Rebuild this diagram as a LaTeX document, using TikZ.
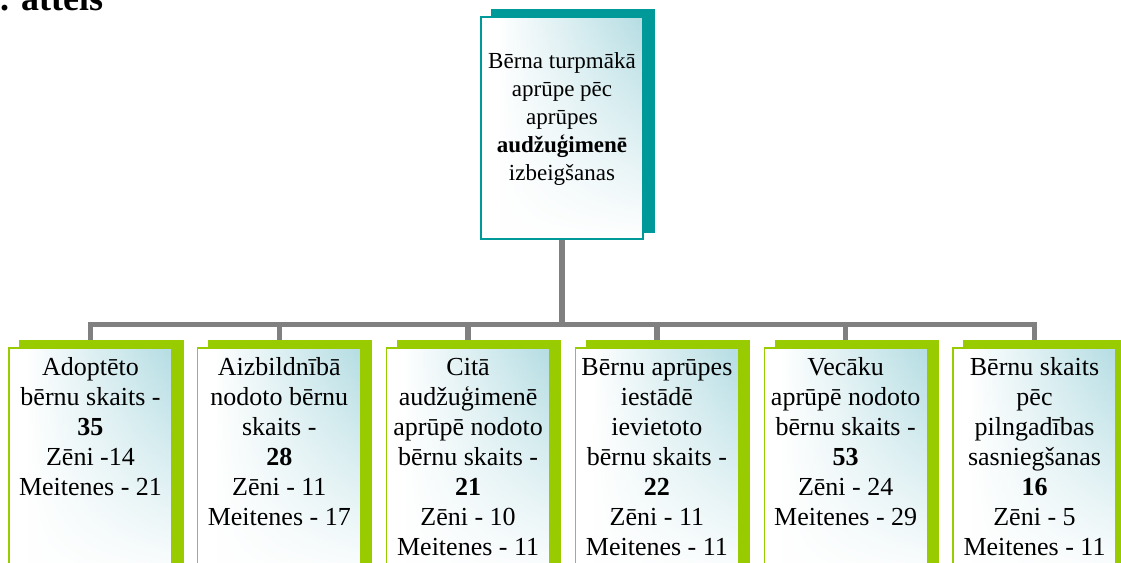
\documentclass[tikz,border=0pt]{standalone}
\usepackage{fontspec}
\setmainfont{Liberation Serif}
\usetikzlibrary{fadings}
\definecolor{lineGray}{RGB}{128,128,128}
\definecolor{tealDark}{RGB}{0,153,153}
\definecolor{greenLeaf}{RGB}{153,204,0}
\definecolor{paleTeal}{RGB}{180,221,227}
\pgfdeclarehorizontalshading{hglow}{100bp}{%
  color(0bp)=(white); color(30bp)=(white); color(75bp)=(paleTeal); color(100bp)=(paleTeal)}
\tikzfading[name=downwhite, top color=transparent!100, middle color=transparent!88, bottom color=transparent!0]
\pgfdeclarelayer{bg}
\pgfsetlayers{bg,main}
\newcommand{\lnTop}[1]{\rule{0pt}{#1}}
\begin{document}
\begin{tikzpicture}[x=1pt,y=-1pt,
  glowfill/.style={path picture={
      \shade[shading=hglow] (path picture bounding box.south west) rectangle (path picture bounding box.north east);
      \fill[white, path fading=downwhite] (path picture bounding box.south west) rectangle (path picture bounding box.north east);}},
  mainbox/.style={draw=tealDark, line width=1.3pt, glowfill,
    minimum width=162pt, minimum height=222pt, inner sep=0pt},
  leafbox/.style={draw=greenLeaf, line width=1.3pt, glowfill,
    minimum width=163pt, minimum height=232pt, inner sep=0pt},
  toptext/.style={anchor=north, align=center, inner sep=0pt, font=\fontsize{23}{28}\selectfont},
  leaftext/.style={anchor=north, align=center, inner sep=0pt, font=\fontsize{26}{30}\selectfont},
  conn/.style={draw=lineGray, line width=5.5pt},
  tealshadow/.style={fill=tealDark},
  greenshadow/.style={fill=greenLeaf}]
\useasboundingbox (0,0) rectangle (1121,562);

\node[font=\bfseries\fontsize{36}{40}\selectfont, anchor=base west, inner sep=0pt] (title) at (-18,10) {1. attēls};

\node[mainbox] (main) at (562,128) {};
\node[toptext] (maintext) at (562,50) {\lnTop{18pt}Bērna turpmākā\\aprūpe pēc\\aprūpes\\\textbf{audžuģimenē}\\izbeigšanas};

\foreach \i/\x in {1/90.5, 2/279.3, 3/468.1, 4/656.9, 5/845.7, 6/1034.5}{
  \node[leafbox] (box\i) at (\x,464) {};
}
\node[leaftext] (t1) at (box1.north |- 0,355) {\lnTop{20pt}Adoptēto\\bērnu skaits -\\\textbf{35}\\Zēni -14\\Meitenes - 21};
\node[leaftext] (t2) at (box2.north |- 0,355) {\lnTop{20pt}Aizbildnībā\\nodoto bērnu\\skaits -\\\textbf{28}\\Zēni - 11\\Meitenes - 17};
\node[leaftext] (t3) at (box3.north |- 0,355) {\lnTop{20pt}Citā\\audžuģimenē\\aprūpē nodoto\\bērnu skaits -\\\textbf{21}\\Zēni - 10\\Meitenes - 11};
\node[leaftext] (t4) at (box4.north |- 0,355) {\lnTop{20pt}Bērnu aprūpes\\iestādē\\ievietoto\\bērnu skaits -\\\textbf{22}\\Zēni - 11\\Meitenes - 11};
\node[leaftext] (t5) at (box5.north |- 0,355) {\lnTop{20pt}Vecāku\\aprūpē nodoto\\bērnu skaits -\\\textbf{53}\\Zēni - 24\\Meitenes - 29};
\node[leaftext] (t6) at (box6.north |- 0,355) {\lnTop{20pt}Bērnu skaits\\pēc\\pilngadības\\sasniegšanas\\\textbf{16}\\Zēni - 5\\Meitenes - 11};

\coordinate (hub) at (main.south |- 0,324.5);
\begin{pgfonlayer}{bg}
  \fill[white] (0,0) rectangle (1121,562);
  \foreach \i in {1,...,6}{
    \draw[conn] (main.south) -- (hub) -| (box\i.north);
  }
  \fill[tealshadow] ([shift={(11,-7)}]main.south west) rectangle ([shift={(11,-7)}]main.north east);
  \foreach \i in {1,...,6}{
    \fill[greenshadow] ([shift={(11,-7)}]box\i.south west) rectangle ([shift={(11,-7)}]box\i.north east);
  }
\end{pgfonlayer}
\end{tikzpicture}
\end{document}
